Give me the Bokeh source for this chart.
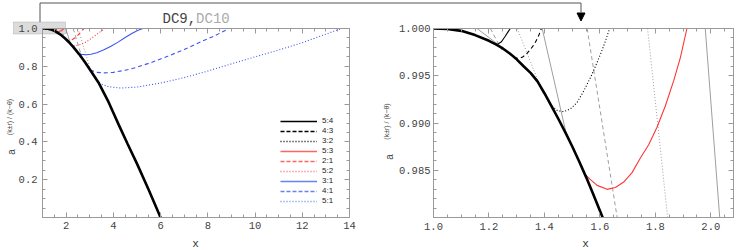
import math
from bokeh.plotting import figure
from bokeh.layouts import row, column
from bokeh.models import (Range1d, LinearAxis, FixedTicker, SingleIntervalTicker, Legend,
                          LegendItem, Label, Arrow, NormalHead, BoxAnnotation,
                          PrintfTickFormatter)
from bokeh.core.properties import value
from bokeh.embed import file_html
from bokeh.resources import INLINE

# ---------------- data ----------------
# stability envelope (thick black)
env_x = [1.0, 1.05, 1.1, 1.15, 1.2, 1.225, 1.25, 1.275, 1.3, 1.325, 1.35, 1.375, 1.4, 1.425,
         1.45, 1.475, 1.5, 1.525, 1.55, 1.575, 1.61, 1.7, 1.8, 1.96, 2.1, 2.3, 2.54, 2.8,
         3.02, 3.39, 3.8, 4.23, 4.6, 5.0, 5.5, 6.0]
env_y = [1.0, 0.99995, 0.99975, 0.9993, 0.9987, 0.99831, 0.99789, 0.99736, 0.99674, 0.99601,
         0.9953, 0.9944, 0.99315, 0.99182, 0.99045, 0.98903, 0.98754, 0.98595, 0.9843,
         0.98255, 0.9800, 0.973, 0.964, 0.947, 0.93, 0.903, 0.866, 0.821, 0.78, 0.71, 0.61,
         0.49, 0.39, 0.285, 0.145, 0.0]

# resonances, DC9 (coloured / black thin)
r54_x = [1.222, 1.232, 1.245, 1.258, 1.27, 1.277]
r54_y = [0.9983, 0.99835, 0.9986, 0.99915, 0.9997, 1.0]
r43_x = [1.29, 1.305, 1.32, 1.335, 1.35, 1.365, 1.378, 1.389]
r43_y = [0.9969, 0.99685, 0.99695, 0.9973, 0.9978, 0.9984, 0.99915, 1.0]
r32_x = [1.428, 1.447, 1.47, 1.494, 1.518, 1.542, 1.566, 1.584, 1.602, 1.618, 1.635]
r32_y = [0.9918, 0.9913, 0.9912, 0.9915, 0.99218, 0.9934, 0.99481, 0.996, 0.99726, 0.9985, 1.0]
r53_x = [1.548, 1.566, 1.59, 1.626, 1.656, 1.686, 1.716, 1.746, 1.776, 1.806, 1.836, 1.866,
         1.89, 1.914]
r53_y = [0.9845, 0.9840, 0.9834, 0.98298, 0.98318, 0.98375, 0.98475, 0.9863, 0.9877, 0.98955,
         0.9918, 0.99445, 0.9969, 1.0]
r21_x = [1.97, 2.03, 2.1, 2.18, 2.28, 2.38, 2.48, 2.58, 2.68, 2.76]
r21_y = [0.946, 0.94, 0.937, 0.938, 0.943, 0.951, 0.962, 0.975, 0.99, 1.0]
r52_x = [2.2, 2.28, 2.38, 2.5, 2.65, 2.8, 3.0, 3.2, 3.4, 3.65]
r52_y = [0.917, 0.911, 0.909, 0.911, 0.917, 0.926, 0.941, 0.96, 0.979, 1.0]
r31_x = [2.54, 2.65, 2.85, 3.05, 3.3, 3.6, 3.9, 4.2, 4.5, 4.8, 5.05, 5.25]
r31_y = [0.866, 0.863, 0.861, 0.864, 0.872, 0.887, 0.906, 0.928, 0.952, 0.975, 0.991, 1.0]
r41_x = [3.02, 3.3, 3.6, 4.0, 4.5, 5.0, 5.6, 6.3, 7.0, 7.7, 8.3, 8.9]
r41_y = [0.78, 0.768, 0.765, 0.768, 0.779, 0.795, 0.82, 0.853, 0.889, 0.929, 0.962, 1.0]
r51_x = [3.39, 3.8, 4.3, 5.0, 6.0, 7.0, 8.0, 9.0, 10.0, 11.0, 12.0, 13.0, 13.65]
r51_y = [0.71, 0.692, 0.685, 0.69, 0.711, 0.74, 0.775, 0.813, 0.85, 0.886, 0.925, 0.97, 1.0]

# DC10 (grey) branches
g54_x, g54_y = [1.157, 1.229], [1.0, 0.9984]
g43_x, g43_y = [1.205, 1.247], [1.0, 0.9977]
g32_x, g32_y = [1.302, 1.378], [1.0, 0.9944]
g53_x, g53_y = [1.392, 1.48], [1.0, 0.9887]
g21_x, g21_y = [1.554, 1.73], [1.0, 0.9675]
g52_x, g52_y = [1.772, 2.0], [1.0, 0.937]
g31_x, g31_y = [1.98, 2.22], [1.0, 0.908]
g41_x, g41_y = [2.3, 2.7], [1.0, 0.835]
g51_x, g51_y = [2.5, 3.05], [1.0, 0.775]

labels = ["5:4", "4:3", "3:2", "5:3", "2:1", "5:2", "3:1", "4:1", "5:1"]

left_yticks = [0.2, 0.4, 0.6, 0.8, 1.0]
right_xticks = [1.0, 1.2, 1.4, 1.6, 1.8, 2.0]
right_yticks = [0.985, 0.990, 0.995, 1.000]

# ---------------- styling ----------------
GRAY = "#9a9a9a"
MONO = "Liberation Mono"
SANS = "Liberation Sans"
RED = "#ff3535"
BLUE = "#3d55f0"
RED_L = "#ff6464"
BLUE_L = "#6485ee"
DC10 = "#9e9e9e"

W1, W2, H = 370, 369, 250
WT = W1 + W2
L_B = dict(left=42, right=21, top=27, bottom=33)
R_B = dict(left=63, right=6, top=28, bottom=33)
LXR, LYR = (1.0, 14.0), (0.0, 1.0)
RXR, RYR = (1.0, 1.0 + 300 / 277.3), (0.98, 1.0)


def make_fig(w, b, xr, yr):
    p = figure(width=w, height=H, x_range=Range1d(*xr), y_range=Range1d(*yr),
               output_backend="svg", toolbar_location=None, x_axis_type=None,
               y_axis_type=None, min_border_left=b["left"], min_border_right=b["right"],
               min_border_top=b["top"], min_border_bottom=b["bottom"])
    p.xgrid.visible = False
    p.ygrid.visible = False
    p.outline_line_color = GRAY
    p.background_fill_color = None
    p.border_fill_color = None
    return p


def add_axes(p, xt, yt, xfmt, yfmt, standoff_x=4, standoff_y=5):
    for side, tk, fmt, show in [("below", xt, xfmt, True), ("left", yt, yfmt, True),
                                ("above", xt, xfmt, False), ("right", yt, yfmt, False)]:
        ax = LinearAxis(ticker=tk, formatter=PrintfTickFormatter(format=fmt))
        ax.axis_line_color = GRAY
        ax.major_tick_line_color = GRAY
        ax.minor_tick_line_color = GRAY
        ax.major_tick_in = 5
        ax.major_tick_out = 0
        ax.minor_tick_in = 3
        ax.minor_tick_out = 0
        ax.major_label_text_font = MONO
        ax.major_label_text_font_size = "10.5px"
        ax.major_label_text_color = "#444444"
        ax.major_label_standoff = standoff_y if side == "left" else standoff_x
        if not show:
            ax.major_label_text_font_size = "0px"
            ax.major_label_text_color = None
            ax.major_label_standoff = 0
        p.add_layout(ax, side)


GREYS = [(g54_x, g54_y, "solid"), (g43_x, g43_y, "4 3"), (g32_x, g32_y, "1 2"),
         (g53_x, g53_y, "solid"), (g21_x, g21_y, "4 3"), (g52_x, g52_y, "1 2"),
         (g31_x, g31_y, "solid"), (g41_x, g41_y, "4 3"), (g51_x, g51_y, "1 2")]
CURVES = [(r54_x, r54_y, "black", "solid"), (r43_x, r43_y, "black", "4 3"),
          (r32_x, r32_y, "black", "1 2"), (r53_x, r53_y, RED, "solid"),
          (r21_x, r21_y, RED, "4 3"), (r52_x, r52_y, RED, "1 2"),
          (r31_x, r31_y, BLUE, "solid"), (r41_x, r41_y, BLUE, "4 3"),
          (r51_x, r51_y, BLUE, "1 2")]
LEG_STYLE = [("black", "solid"), ("black", "4 2"), ("black", "1 2"),
             (RED_L, "solid"), (RED_L, "4 2"), (RED_L, "1 2"),
             (BLUE_L, "solid"), (BLUE_L, "4 2"), (BLUE_L, "1 2")]


def draw_curves(p):
    for gx, gy, dash in GREYS:
        p.line(gx, gy, line_color=DC10, line_width=1, line_dash=dash)
    for cx, cy, col, dash in CURVES:
        p.line(cx, cy, line_color=col, line_width=1.1, line_dash=dash)
    p.line(env_x, env_y, line_color="black", line_width=2.6)


# ---------------- background layer (texts and connectors outside the frames) ----------------
bg = figure(width=WT, height=H, x_range=Range1d(0, WT), y_range=Range1d(H, 0),
            output_backend="svg", toolbar_location=None, x_axis_type=None, y_axis_type=None,
            min_border_left=0, min_border_right=0, min_border_top=0, min_border_bottom=0,
            title=None)
bg.xgrid.visible = False
bg.ygrid.visible = False
bg.outline_line_color = None
bg.background_fill_color = "white"
bg.border_fill_color = "white"

# highlighted zoom box around "1.0"
bg.add_layout(BoxAnnotation(left=13, right=65, top=21.5, bottom=33.5, fill_color="#dcdcdc",
                            fill_alpha=1.0, line_color="#8a8a8a", line_width=1))

# connector with arrow
bg.add_layout(Arrow(x_start=39.5, y_start=21.5, x_end=39.5, y_end=2.5, end=None,
                    line_color="#555555", line_width=1))
bg.add_layout(Arrow(x_start=39.5, y_start=2.5, x_end=580.5, y_end=2.5, end=None,
                    line_color="#555555", line_width=1))
bg.add_layout(Arrow(x_start=580.5, y_start=2.5, x_end=580.5, y_end=20.5,
                    end=NormalHead(size=8, fill_color="black", line_color="black"),
                    line_color="#555555", line_width=1))

# title
bg.add_layout(Label(x=162, y=18.5, text="DC9,", text_font=MONO, text_font_size="14px",
                    text_color="#444444", text_align="left", text_baseline="alphabetic"))
bg.add_layout(Label(x=162 + 33.6, y=18.5, text="DC10", text_font=MONO, text_font_size="14px",
                    text_color="#aaaaaa", text_align="left", text_baseline="alphabetic"))


def ylabel(ax_c, ay_c, sx_c, sy_c):
    bg.add_layout(Label(x=ax_c, y=ay_c, text="a", angle=math.pi / 2, text_font=SANS,
                        text_font_size="10px", text_color="#444444", text_align="center",
                        text_baseline="alphabetic"))
    bg.add_layout(Label(x=sx_c, y=sy_c, text="(k\u00b1r) / (k\u2212\u03b8)", angle=math.pi / 2,
                        text_font=SANS, text_font_size="7px", text_color="#444444",
                        text_align="center", text_baseline="alphabetic"))


def xlabel(cx, cy):
    bg.add_layout(Label(x=cx, y=cy, text="x", text_font=MONO, text_font_size="11px",
                        text_color="#333333", text_align="center", text_baseline="alphabetic"))


ylabel(10.5, 151.5, 8.5, 116.5)
ylabel(388.5, 156.5, 385.5, 121)
xlabel(195, 243)
xlabel(585, 243)

# ---------------- left panel ----------------
p1 = make_fig(W1, L_B, LXR, LYR)
add_axes(p1, SingleIntervalTicker(interval=2, num_minor_ticks=4),
         FixedTicker(ticks=left_yticks, minor_ticks=[round(0.05 * i, 2) for i in range(21)]),
         "%d", "%.1f")
draw_curves(p1)

# legend samples: same series on a range far outside the frame, so only the key shows them
p1.extra_y_ranges = {"key": Range1d(20, 21)}
leg_rends = [p1.line(cx, cy, line_color=c, line_width=1.5, line_dash=d, y_range_name="key")
             for (cx, cy, _, _), (c, d) in zip(CURVES, LEG_STYLE)]
legend = Legend(items=[LegendItem(label=value(l), renderers=[r])
                       for l, r in zip(labels, leg_rends)], location=(238, 11.5))
legend.glyph_width = 37
legend.glyph_height = 10
legend.label_height = 10
legend.spacing = 0
legend.padding = 0
legend.margin = 0
legend.label_standoff = 5
legend.label_text_font = SANS
legend.label_text_font_size = "8px"
legend.label_text_color = "#222222"
legend.border_line_color = None
legend.background_fill_alpha = 0
p1.add_layout(legend)

# ---------------- right panel ----------------
p2 = make_fig(W2, R_B, RXR, RYR)
add_axes(p2, FixedTicker(ticks=right_xticks, minor_ticks=[round(1 + 0.05 * i, 3) for i in range(23)]),
         FixedTicker(ticks=right_yticks, minor_ticks=[round(0.98 + 0.001 * i, 4) for i in range(21)]),
         "%.1f", "%.3f", standoff_x=5, standoff_y=3)
draw_curves(p2)

plots = row(p1, p2, spacing=0)
plots.styles = {"margin-top": f"-{H}px"}
layout = column(bg, plots, spacing=0)
open("out.html", "w").write(file_html(layout, INLINE))
